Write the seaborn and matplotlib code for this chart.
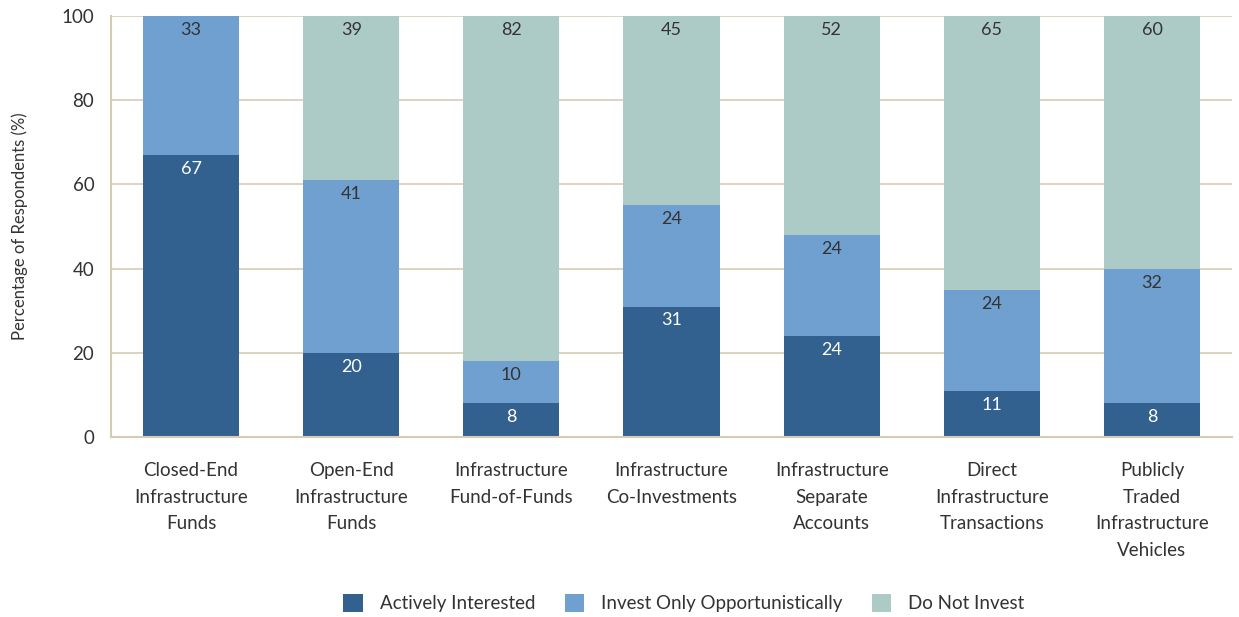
import matplotlib.pyplot as plt
import numpy as np
import pandas as pd
import seaborn as sns

categories = ['Closed-End\nInfrastructure\nFunds', 'Open-End\nInfrastructure\nFunds',
              'Infrastructure\nFund-of-Funds', 'Infrastructure\nCo-Investments',
              'Infrastructure\nSeparate\nAccounts', 'Direct\nInfrastructure\nTransactions',
              'Publicly\nTraded\nInfrastructure\nVehicles']
actively = [67, 20, 8, 31, 24, 11, 8]
opportunistic = [33, 41, 10, 24, 24, 24, 32]
do_not = [0, 39, 82, 45, 52, 65, 60]
series_names = ['Actively Interested', 'Invest Only Opportunistically', 'Do Not Invest']
colors = ['#33618f', '#70a0d0', '#adcbc6']
text_colors = ['white', '#333333', '#333333']

sns.set_style('white')
plt.rcParams['font.family'] = ['Lato', 'DejaVu Sans']
plt.rcParams['text.color'] = '#333333'

df = pd.DataFrame({'Category': categories, series_names[0]: actively,
                   series_names[1]: opportunistic, series_names[2]: do_not})

fig = plt.figure(figsize=(12.39, 6.17), dpi=100)
ax = fig.add_axes([0.0896, 0.2917, 0.9048, 0.6823])

bottom = np.zeros(len(categories))
for name, c, tc in zip(series_names, colors, text_colors):
    vals = df[name].values
    sns.barplot(x=df['Category'], y=vals, bottom=bottom, color=c, width=0.6,
                label=name, ax=ax, saturation=1, linewidth=0, edgecolor='none')
    for i, (v, b) in enumerate(zip(vals, bottom)):
        if v > 0:
            ax.annotate(str(v), (i, b + v), xytext=(0, -10), textcoords='offset points',
                        ha='center', va='center', fontsize=13, color=tc)
    bottom = bottom + vals

ax.set_xlim(-0.5, len(categories) - 0.5)
ax.set_ylim(0, 100)
ax.set_yticks(range(0, 101, 20))
ax.yaxis.grid(True, color='#d6ccb4', linewidth=1.2)
ax.set_axisbelow(True)
for s in ['top', 'right']:
    ax.spines[s].set_visible(False)
for s in ['left', 'bottom']:
    ax.spines[s].set_color('#d6ccb4')
    ax.spines[s].set_linewidth(1.5)
ax.tick_params(axis='both', length=0, labelsize=13.5, colors='#333333')
ax.tick_params(axis='x', pad=18)
ax.tick_params(axis='y', pad=12)
for lbl in ax.get_xticklabels():
    lbl.set_linespacing(1.68)
ax.set_xlabel('')
ax.set_ylabel('Percentage of Respondents (%)', fontsize=12, color='#333333', labelpad=24)

ax.legend(loc='center', bbox_to_anchor=(0.511, -0.395), ncol=3, frameon=False,
          fontsize=13.5, handlelength=1.05, handleheight=1.05, columnspacing=1.55,
          handletextpad=0.9)

fig.savefig('out.png', dpi=100)
